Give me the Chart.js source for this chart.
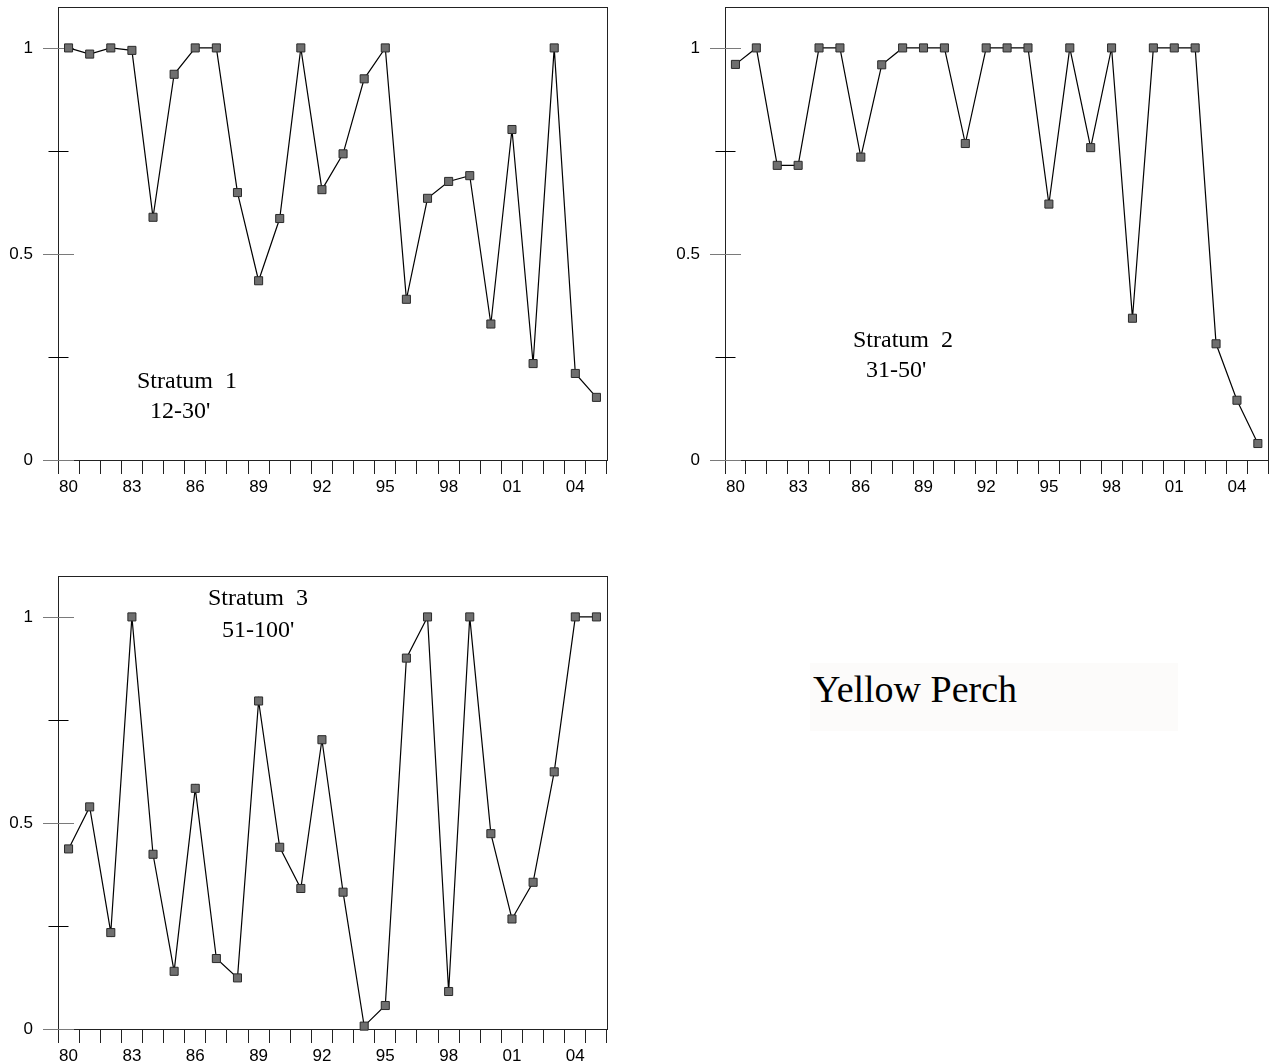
<!DOCTYPE html>
<html>
<head>
<meta charset="utf-8">
<script src="https://cdn.jsdelivr.net/npm/chart.js@4.4.1/dist/chart.umd.min.js"></script>
<style>
  html, body { margin: 0; padding: 0; background: #fff; overflow: hidden; }
  body { width: 1275px; height: 1064px; position: relative; font-family: 'Liberation Serif', 'Times New Roman', serif; color: #000; }
  canvas { position: absolute; }
  .note { position: absolute; font-size: 24px; line-height: 24px; white-space: pre; }
  .species { position: absolute; left: 810px; top: 663px; width: 368px; height: 68px; background: #fcfbfa; }
  .species span { position: absolute; left: 3px; top: 7px; font-size: 38px; line-height: 38px; white-space: nowrap; }
</style>
</head>
<body>
<canvas id="c1" width="625" height="495" style="left:0;top:0"></canvas>
<canvas id="c2" width="608" height="495" style="left:667px;top:0"></canvas>
<canvas id="c3" width="625" height="495" style="left:0;top:569px"></canvas>

<div class="note" style="left:137px;top:368px">Stratum  1</div>
<div class="note" style="left:150px;top:398px">12-30'</div>
<div class="note" style="left:853px;top:327px">Stratum  2</div>
<div class="note" style="left:866px;top:357px">31-50'</div>
<div class="note" style="left:208px;top:585px">Stratum  3</div>
<div class="note" style="left:222px;top:617px">51-100'</div>

<div class="species"><span>Yellow Perch</span></div>

<script>
const YEARS = ['80','81','82','83','84','85','86','87','88','89','90','91','92',
               '93','94','95','96','97','98','99','00','01','02','03','04','05']

const STRATUM1 = [1.0, 0.985, 1.0, 0.994, 0.589, 0.936, 1.0, 1.0, 0.649, 0.435, 0.586, 1.0, 0.656,
                  0.743, 0.925, 1.0, 0.390, 0.635, 0.676, 0.690, 0.330, 0.802, 0.234, 1.0, 0.210, 0.152]

const STRATUM2 = [0.960, 1.0, 0.715, 0.715, 1.0, 1.0, 0.735, 0.959, 1.0, 1.0, 1.0, 0.768, 1.0,
                  1.0, 1.0, 0.621, 1.0, 0.758, 1.0, 0.344, 1.0, 1.0, 1.0, 0.282, 0.145, 0.040]

const STRATUM3 = [0.437, 0.539, 0.234, 1.0, 0.424, 0.140, 0.584, 0.171, 0.124, 0.796, 0.441, 0.341, 0.702,
                  0.332, 0.007, 0.057, 0.900, 1.0, 0.091, 1.0, 0.474, 0.267, 0.356, 0.624, 1.0, 1.0]

const Y_TICKS   = [0, 0.25, 0.5, 0.75, 1]
const Y_MAX     = 1.1
const LABEL_GAP = 3

const FONT_SANS = "'Liberation Sans', Arial, sans-serif"

// box round the plot area plus the y ticks that cross the axis
const framePlugin = {
  id: 'frame',
  beforeDatasetsDraw(chart) {
    const { ctx, chartArea: a, scales: { y } } = chart
    ctx.save()
    ctx.lineWidth = 1
    ctx.strokeStyle = '#222'
    const l = Math.round(a.left) + 0.5
    const t = Math.round(a.top) + 0.5
    ctx.strokeRect(l, t, Math.round(a.right) - Math.round(a.left), Math.round(a.bottom) - Math.round(a.top))

    Y_TICKS.forEach(v => {
      const py    = Math.round(y.getPixelForValue(v)) + 0.5
      const major = v % 0.5 === 0
      const half  = major ? 15.5 : 10
      ctx.strokeStyle = major ? '#7a7a7a' : '#000'
      ctx.beginPath()
      ctx.moveTo(l - half, py)
      ctx.lineTo(l + half, py)
      ctx.stroke()
    })
    ctx.restore()
  }
}

function makeChart(id, values, rightPad) {
  return new Chart(document.getElementById(id), {
    type: 'line',
    data: {
      labels: YEARS,
      datasets: [{
        data: values,
        borderColor: '#000',
        borderWidth: 1.2,
        tension: 0,
        pointStyle: 'rect',
        pointRadius: 5.7,
        pointBackgroundColor: '#6f6f6f',
        pointBorderColor: '#2a2a2a',
        pointBorderWidth: 1,
        clip: false
      }]
    },
    options: {
      responsive: false,
      animation: false,
      events: [],
      layout: { padding: { top: 6, right: rightPad, left: 0, bottom: 0 } },
      plugins: { legend: { display: false }, tooltip: { enabled: false } },
      scales: {
        x: {
          type: 'category',
          offset: true,
          border: { display: false },
          grid: { offset: true, drawOnChartArea: false, drawTicks: true, tickLength: 14, color: '#222', lineWidth: 1 },
          ticks: {
            autoSkip: false,
            maxRotation: 0,
            minRotation: 0,
            padding: 3,
            color: '#000',
            font: { size: 17, family: FONT_SANS },
            callback(val, i) { return i % LABEL_GAP === 0 ? this.getLabelForValue(val) : '' }
          },
          afterFit(scale) {
            scale.height = 35
            scale.paddingLeft = 0
            scale.paddingRight = 0
          }
        },
        y: {
          min: 0,
          max: Y_MAX,
          border: { display: false },
          grid: { display: false, drawTicks: false, tickLength: 0 },
          ticks: {
            padding: 25,
            color: '#000',
            font: { size: 17, family: FONT_SANS },
            callback: v => (v % 0.5 === 0 ? String(v) : '')
          },
          afterBuildTicks(scale) { scale.ticks = Y_TICKS.map(value => ({ value })) },
          afterFit(scale) {
            scale.width = 58
            scale.paddingTop = 0
            scale.paddingBottom = 0
          }
        }
      }
    },
    plugins: [framePlugin]
  })
}

makeChart('c1', STRATUM1, 18)
makeChart('c2', STRATUM2, 2)
makeChart('c3', STRATUM3, 18)
</script>
</body>
</html>
